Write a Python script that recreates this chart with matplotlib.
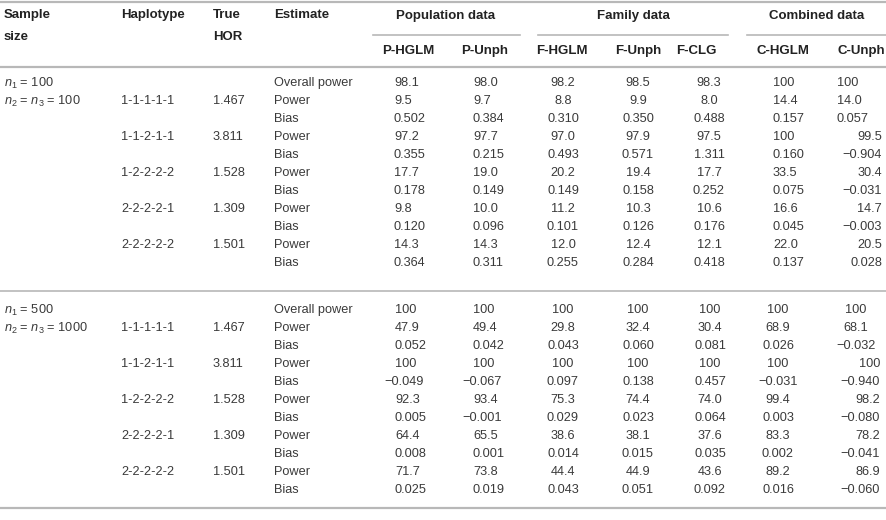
import matplotlib
matplotlib.use("Agg")
import matplotlib.pyplot as plt

plt.rcParams['font.family'] = ['Liberation Sans', 'DejaVu Sans']
plt.rcParams['mathtext.fontset'] = 'custom'
plt.rcParams['mathtext.rm'] = 'Liberation Sans'
plt.rcParams['mathtext.it'] = 'Liberation Sans:italic'

methods = ["P-HGLM", "P-Unph", "F-HGLM", "F-Unph", "F-CLG", "C-HGLM", "C-Unph"]
groups = ["Population data", "Family data", "Combined data"]
haplotypes = ["1-1-1-1-1", "1-1-2-1-1", "1-2-2-2-2", "2-2-2-2-1", "2-2-2-2-2"]
true_hor = ["1.467", "3.811", "1.528", "1.309", "1.501"]
sample_sizes = [(r"$n_1$ = 100", r"$n_2$ = $n_3$ = 100"),
                (r"$n_1$ = 500", r"$n_2$ = $n_3$ = 1000")]

# block 1: n1 = 100
small_overall = ["98.1", "98.0", "98.2", "98.5", "98.3", "100", "100"]
small_power = [
    ["9.5", "9.7", "8.8", "9.9", "8.0", "14.4", "14.0"],
    ["97.2", "97.7", "97.0", "97.9", "97.5", "100", "99.5"],
    ["17.7", "19.0", "20.2", "19.4", "17.7", "33.5", "30.4"],
    ["9.8", "10.0", "11.2", "10.3", "10.6", "16.6", "14.7"],
    ["14.3", "14.3", "12.0", "12.4", "12.1", "22.0", "20.5"],
]
small_bias = [
    ["0.502", "0.384", "0.310", "0.350", "0.488", "0.157", "0.057"],
    ["0.355", "0.215", "0.493", "0.571", "1.311", "0.160", "\u22120.904"],
    ["0.178", "0.149", "0.149", "0.158", "0.252", "0.075", "\u22120.031"],
    ["0.120", "0.096", "0.101", "0.126", "0.176", "0.045", "\u22120.003"],
    ["0.364", "0.311", "0.255", "0.284", "0.418", "0.137", "0.028"],
]

# block 2: n1 = 500
large_overall = ["100", "100", "100", "100", "100", "100", "100"]
large_power = [
    ["47.9", "49.4", "29.8", "32.4", "30.4", "68.9", "68.1"],
    ["100", "100", "100", "100", "100", "100", "100"],
    ["92.3", "93.4", "75.3", "74.4", "74.0", "99.4", "98.2"],
    ["64.4", "65.5", "38.6", "38.1", "37.6", "83.3", "78.2"],
    ["71.7", "73.8", "44.4", "44.9", "43.6", "89.2", "86.9"],
]
large_bias = [
    ["0.052", "0.042", "0.043", "0.060", "0.081", "0.026", "\u22120.032"],
    ["\u22120.049", "\u22120.067", "0.097", "0.138", "0.457", "\u22120.031", "\u22120.940"],
    ["0.005", "\u22120.001", "0.029", "0.023", "0.064", "0.003", "\u22120.080"],
    ["0.008", "0.001", "0.014", "0.015", "0.035", "0.002", "\u22120.041"],
    ["0.025", "0.019", "0.043", "0.051", "0.092", "0.016", "\u22120.060"],
]

W, H = 887, 520
fig = plt.figure(figsize=(W / 100, H / 100), dpi=100)
ax = fig.add_axes([0, 0, 1, 1])
ax.set_xlim(0, W)
ax.set_ylim(H, 0)
ax.axis("off")

body = dict(fontsize=9.2, color="#3a3a3a", va="center")
head = dict(fontsize=9.5, color="#222222", va="center", fontweight="bold")
rule = "#b8b8b8"

# rules
ax.plot([0, W], [2, 2], color=rule, lw=1.6)
ax.plot([0, W], [67, 67], color=rule, lw=1.6)
ax.plot([0, W], [291, 291], color=rule, lw=1.2)
ax.plot([0, W], [508, 508], color=rule, lw=1.6)
for x0, x1 in [(373, 520), (538, 728), (747, 887)]:
    ax.plot([x0, x1], [35, 35], color=rule, lw=1.2)

# header
ax.text(4, 15, "Sample", ha="left", **head)
ax.text(4, 37, "size", ha="left", **head)
ax.text(121, 15, "Haplotype", ha="left", **head)
ax.text(213, 15, "True", ha="left", **head)
ax.text(213, 37, "HOR", ha="left", **head)
ax.text(274, 15, "Estimate", ha="left", **head)
for g, xc in zip(groups, [446, 633, 817]):
    ax.text(xc, 16, g, ha="center", **head)
for m, xc in zip(methods, [408, 485, 562, 638, 696, 783, 861]):
    ax.text(xc, 51, m, ha="center", **head)

# column anchors per block
align_small = [("left", 394), ("left", 473), ("center", 563), ("center", 638),
               ("center", 709), ("left", 773), ("right", 882)]
align_large = [("left", 395), ("left", 473), ("center", 563), ("center", 638),
               ("center", 710), ("center", 778), ("right", 880)]
first_cunph = [("left", 837), ("center", 856)]


def put(value, y, mode, x):
    if mode == "left" and value.startswith("\u2212"):
        x -= 11
    ax.text(x, y, value, ha=mode, **body)


blocks = [(83, small_overall, small_power, small_bias, align_small),
          (310, large_overall, large_power, large_bias, align_large)]
step = 18
for b, (y0, overall, power, bias, align) in enumerate(blocks):
    ax.text(4, y0, sample_sizes[b][0], ha="left", **body)
    ax.text(4, y0 + step, sample_sizes[b][1], ha="left", **body)
    rows = [("Overall power", overall)]
    for i in range(len(haplotypes)):
        rows.append(("Power", power[i]))
        rows.append(("Bias", bias[i]))
    for r, (label, vals) in enumerate(rows):
        y = y0 + r * step
        ax.text(274, y, label, ha="left", **body)
        if label == "Power":
            k = (r - 1) // 2
            ax.text(121, y, haplotypes[k], ha="left", **body)
            ax.text(213, y, true_hor[k], ha="left", **body)
        for c, v in enumerate(vals):
            mode, x = align[c]
            if c == 6 and r < 3:
                mode, x = first_cunph[b]
            put(v, y, mode, x)

fig.savefig("out.png", dpi=100)
